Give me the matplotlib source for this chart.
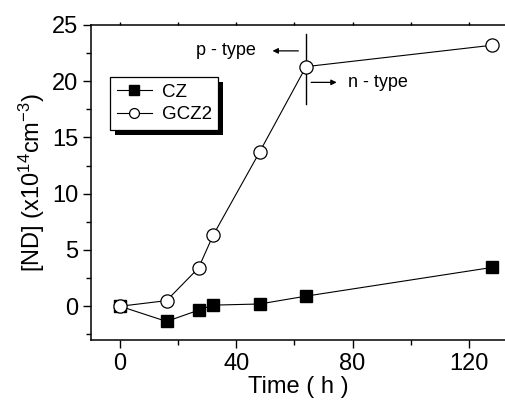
import matplotlib.pyplot as plt
import matplotlib.transforms as mtransforms
from matplotlib.patches import Rectangle
from matplotlib.ticker import MultipleLocator

plt.rcParams['font.family'] = ['Liberation Sans', 'DejaVu Sans']
plt.rcParams['mathtext.fontset'] = 'custom'
plt.rcParams['mathtext.rm'] = 'Liberation Sans'
plt.rcParams['mathtext.it'] = 'Liberation Sans:italic'

# annealing time (h)
time_cz = [0, 16, 27, 32, 48, 64, 128]
nd_cz = [0.0, -1.35, -0.35, 0.1, 0.2, 0.9, 3.45]
time_gcz2 = [0, 16, 27, 32, 48, 64, 128]
nd_gcz2 = [0.0, 0.5, 3.4, 6.3, 13.7, 21.3, 23.2]
x_ticks = [0, 40, 80, 120]
y_ticks = [0, 5, 10, 15, 20, 25]

fig = plt.figure(figsize=(5.06, 4.03), dpi=100)
ax = fig.add_axes([91/506, 1-340/403, 1-91/506, (340-25)/403])

ax.plot(time_cz, nd_cz, '-s', color='black', lw=0.8, ms=9, mfc='black', label='CZ', zorder=3)
ax.plot(time_gcz2, nd_gcz2, '-o', color='black', lw=0.8, ms=9.5, mfc='white', mew=0.9, label='GCZ2', zorder=4)

# p/n type boundary
ax.plot([64, 64], [18.0, 24.2], color='black', lw=1.0)
ax.annotate('', xy=(51.5, 22.7), xytext=(62.3, 22.7),
            arrowprops=dict(arrowstyle='-|>', color='black', lw=0.9, mutation_scale=8))
ax.annotate('', xy=(75.5, 19.9), xytext=(64.8, 19.9),
            arrowprops=dict(arrowstyle='-|>', color='black', lw=0.9, mutation_scale=8))
ax.text(46.6, 22.7, 'p - type', ha='right', va='center', fontsize=13)
ax.text(78.6, 19.9, 'n - type', ha='left', va='center', fontsize=13)

ax.set_xlim(-10, 132.8)
ax.set_ylim(-3, 25)
ax.set_xticks(x_ticks)
ax.set_yticks(y_ticks)
ax.xaxis.set_minor_locator(MultipleLocator(20))
ax.yaxis.set_minor_locator(MultipleLocator(2.5))
ax.tick_params(which='major', direction='out', length=6, width=1, labelsize=17, pad=3)
ax.tick_params(which='minor', direction='out', length=3.5, width=1)
ax.tick_params(axis='x', which='both', top=True)
for t in ax.xaxis.get_major_ticks() + ax.xaxis.get_minor_ticks():
    t.tick2line.set_markersize(2)
ax.spines['right'].set_visible(False)
for s in ['left', 'bottom', 'top']:
    ax.spines[s].set_linewidth(1.1)

ax.set_xlabel('Time ( h )', fontsize=17, labelpad=1)
ax.set_ylabel(r'[ND] (x10$^{14}$cm$^{-3}$)', fontsize=17, labelpad=4)

leg = ax.legend(loc='upper left', bbox_to_anchor=(0.046, 0.835), fontsize=13.5,
                frameon=True, fancybox=False, edgecolor='black', framealpha=1,
                handlelength=1.9, handletextpad=0.5, labelspacing=0.3,
                borderpad=0.35, borderaxespad=0, markerscale=0.75)
leg.get_frame().set_linewidth(0.9)
leg.set_zorder(6)

# black drop shadow behind the legend box
fig.canvas.draw()
bb = leg.get_window_extent().transformed(ax.transAxes.inverted())
offset = mtransforms.ScaledTranslation(5/100, -5/100, fig.dpi_scale_trans)
shadow = Rectangle((bb.x0, bb.y0), bb.width, bb.height, transform=ax.transAxes + offset,
                   facecolor='black', edgecolor='none', zorder=5, clip_on=False)
ax.add_patch(shadow)

fig.savefig('out.png', dpi=100)
